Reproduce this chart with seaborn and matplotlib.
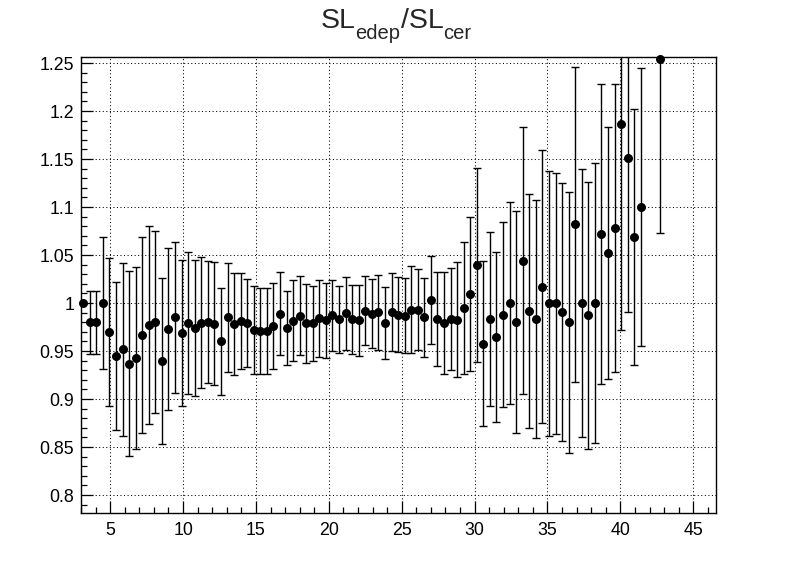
import matplotlib
matplotlib.use("Agg")
import matplotlib.pyplot as plt
from matplotlib.ticker import MultipleLocator, FuncFormatter
import seaborn as sns
import pandas as pd

x_vals = [3.15, 3.6, 4.05, 4.5, 4.95, 5.4, 5.85, 6.3, 6.75, 7.2,
          7.65, 8.1, 8.55, 9.0, 9.45, 9.9, 10.35, 10.8, 11.25, 11.7,
          12.15, 12.6, 13.05, 13.5, 13.95, 14.4, 14.85, 15.3, 15.75, 16.2,
          16.65, 17.1, 17.55, 18.0, 18.45, 18.9, 19.35, 19.8, 20.25, 20.7,
          21.15, 21.6, 22.05, 22.5, 22.95, 23.4, 23.85, 24.3, 24.75, 25.2,
          25.65, 26.1, 26.55, 27.0, 27.45, 27.9, 28.35, 28.8, 29.25, 29.7,
          30.15, 30.6, 31.05, 31.5, 31.95, 32.4, 32.85, 33.3, 33.75, 34.2,
          34.65, 35.1, 35.55, 36.0, 36.45, 36.9, 37.35, 37.8, 38.25, 38.7,
          39.15, 39.6, 40.05, 40.5, 40.95, 41.4, 42.75]

ratio = [1.000, 0.980, 0.980, 1.000, 0.970, 0.945, 0.952, 0.937, 0.943, 0.967,
         0.977, 0.980, 0.940, 0.973, 0.985, 0.969, 0.9795, 0.974, 0.9795, 0.980,
         0.9785, 0.960, 0.985, 0.9785, 0.981, 0.9795, 0.972, 0.971, 0.971, 0.976,
         0.989, 0.974, 0.9816, 0.987, 0.979, 0.979, 0.984, 0.982, 0.9875, 0.983,
         0.9896, 0.983, 0.982, 0.992, 0.989, 0.9906, 0.979, 0.9906, 0.988, 0.987,
         0.993, 0.993, 0.985, 1.0035, 0.9837, 0.979, 0.9837, 0.9826, 0.995, 1.0094,
         1.040, 0.9576, 0.9837, 0.965, 0.988, 1.000, 0.9806, 1.044, 0.992, 0.9837,
         1.017, 1.000, 1.000, 0.9906, 0.980, 1.0823, 1.000, 0.9875, 1.000, 1.0719,
         1.052, 1.078, 1.1865, 1.151, 1.0688, 1.100, 1.2545]

ratio_err = [0.0, 0.033, 0.033, 0.069, 0.077, 0.077, 0.090, 0.096, 0.095, 0.102,
             0.103, 0.095, 0.0865, 0.084, 0.079, 0.076, 0.074, 0.0705, 0.068, 0.0635,
             0.064, 0.056, 0.057, 0.053, 0.050, 0.046, 0.046, 0.0446, 0.0446, 0.045,
             0.043, 0.039, 0.042, 0.041, 0.041, 0.039, 0.040, 0.039, 0.037, 0.035,
             0.038, 0.036, 0.037, 0.036, 0.0356, 0.039, 0.0375, 0.041, 0.039, 0.039,
             0.0455, 0.042, 0.041, 0.046, 0.049, 0.053, 0.053, 0.060, 0.0686, 0.0804,
             0.101, 0.086, 0.0905, 0.0885, 0.0964, 0.105, 0.1155, 0.139, 0.122, 0.124,
             0.142, 0.138, 0.136, 0.134, 0.136, 0.164, 0.140, 0.139, 0.146, 0.156,
             0.131, 0.150, 0.2145, 0.160, 0.1337, 0.1444, 0.1817]

# title pieces: (text, is_subscript)
title_parts = [("SL", False), ("edep", True), ("/SL", False), ("cer", True)]

sns.set_style("ticks")
plt.rcParams["font.family"] = ["Liberation Sans", "DejaVu Sans"]

df = pd.DataFrame({"x": x_vals, "y": ratio, "err": ratio_err})

W, H = 796, 572
fig = plt.figure(figsize=(W / 100, H / 100), dpi=100)
ax = fig.add_axes([0.1018, 0.1026, 0.7977, 0.7972])

ax.errorbar(df["x"], df["y"], yerr=df["err"], fmt="none", ecolor="black",
            elinewidth=1.0, capsize=2.8, capthick=1.0, zorder=3)
sns.scatterplot(data=df, x="x", y="y", ax=ax, color="black", s=42,
                edgecolor="black", linewidth=0, zorder=4, clip_on=False,
                legend=False)

ax.set_xlim(3.0, 46.56)
ax.set_ylim(0.781, 1.256)
ax.xaxis.set_major_locator(MultipleLocator(5))
ax.xaxis.set_minor_locator(MultipleLocator(1))
ax.yaxis.set_major_locator(MultipleLocator(0.05))
ax.yaxis.set_minor_locator(MultipleLocator(0.01))
ax.yaxis.set_major_formatter(FuncFormatter(lambda v, p: f"{v:g}"))
ax.xaxis.set_major_formatter(FuncFormatter(lambda v, p: f"{v:g}"))

ax.tick_params(axis="both", which="both", direction="in", top=False, right=False,
               labelsize=12.8, colors="black", width=0.9)
ax.tick_params(axis="y", which="major", length=8.5, pad=5)
ax.tick_params(axis="y", which="minor", length=4.3)
ax.tick_params(axis="x", which="major", length=8.5, pad=6)
ax.tick_params(axis="x", which="minor", length=4.3)

ax.grid(True, which="major", color="black", linestyle=(0, (1.0, 2.4)), linewidth=0.75)
ax.set_axisbelow(True)
for sp in ax.spines.values():
    sp.set_linewidth(1.0)
    sp.set_color("black")

ax.set_xlabel("")
ax.set_ylabel("")

# title assembled from pieces (ROOT-like lowered subscripts)
renderer = fig.canvas.get_renderer()
main_size, sub_size = 20.5, 14.5
base_px, sub_drop_px = 28.5, 10.5
center_px = 396
texts = []
for txt, sub in title_parts:
    t = fig.text(0, 0, txt, fontsize=sub_size if sub else main_size,
                 ha="left", va="baseline")
    texts.append((t, sub))
widths = [t.get_window_extent(renderer).width for t, _ in texts]
xpos = center_px - sum(widths) / 2
for (t, sub), w in zip(texts, widths):
    ypx = base_px + (sub_drop_px if sub else 0)
    t.set_position((xpos / W, 1 - ypx / H))
    xpos += w

fig.savefig("out.png", dpi=100)
